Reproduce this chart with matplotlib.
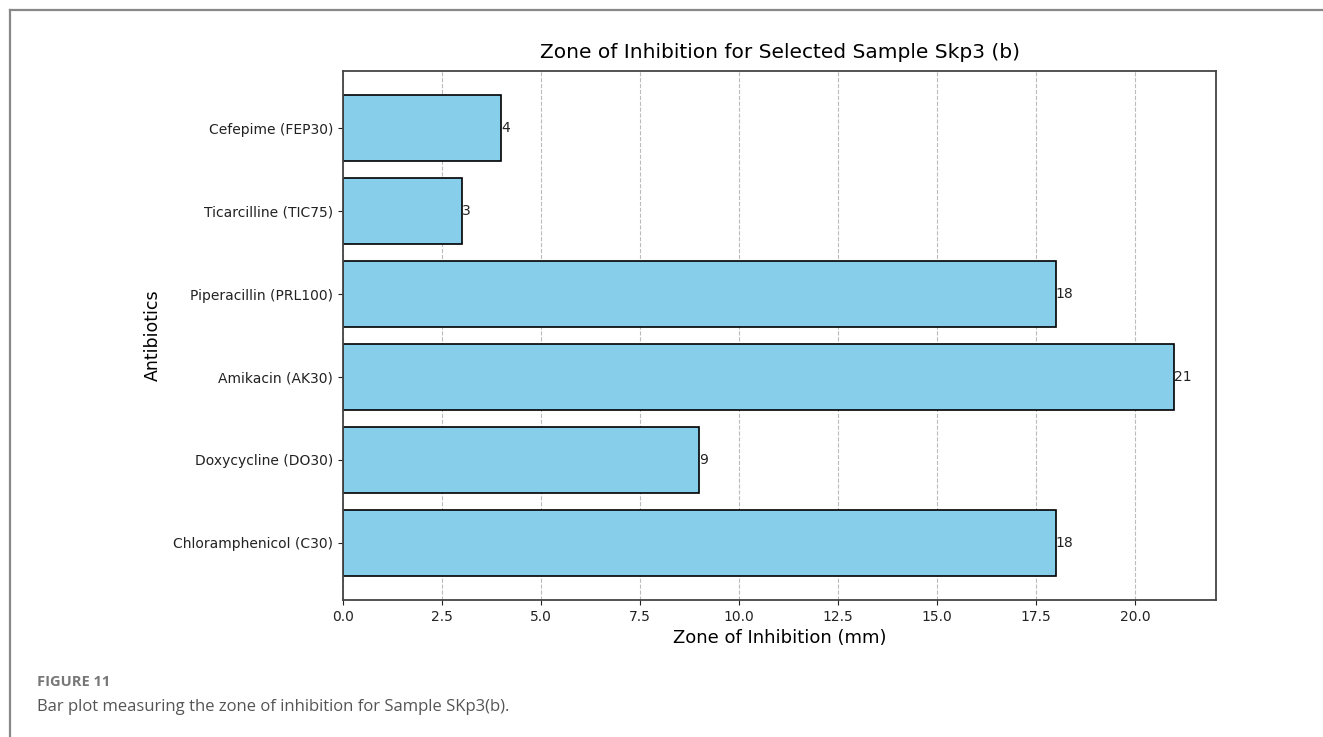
import matplotlib
matplotlib.use("Agg")
from matplotlib import pyplot as plt
from matplotlib.lines import Line2D

antibiotics = [
    "Chloramphenicol (C30)",
    "Doxycycline (DO30)",
    "Amikacin (AK30)",
    "Piperacillin (PRL100)",
    "Ticarcilline (TIC75)",
    "Cefepime (FEP30)",
]
zone_mm = [18, 9, 21, 18, 3, 4]

fig = plt.figure(figsize=(13.23, 7.37), dpi=100)
ax = fig.add_axes([0.2593, 0.1859, 0.6598, 0.7178])

bars = ax.barh(antibiotics, zone_mm, color="skyblue", edgecolor="black", linewidth=1.2)

# value printed just past the end of each bar
for bar, value in zip(bars, zone_mm):
    ax.text(bar.get_width(), bar.get_y() + bar.get_height() / 2, str(value),
            ha="left", va="center", fontsize=10, color="#222222")

ax.set_title("Zone of Inhibition for Selected Sample Skp3 (b)", fontsize=14.5, pad=9)
ax.set_xlabel("Zone of Inhibition (mm)", fontsize=13, labelpad=4)
ax.set_ylabel("Antibiotics", fontsize=12.5, labelpad=8)
ax.tick_params(labelsize=10, colors="#222222")
ax.grid(axis="x", linestyle="--", color="#aaaaaa", alpha=0.8)
ax.set_axisbelow(True)
for spine in ax.spines.values():
    spine.set_linewidth(1.3)
    spine.set_color("#444444")

# journal figure frame (top and left edges only) and caption
fig.add_artist(Line2D([10 / 1323, 1.0], [1 - 10 / 737, 1 - 10 / 737],
                      transform=fig.transFigure, color="#888888", linewidth=1.6))
fig.add_artist(Line2D([10 / 1323, 10 / 1323], [0.0, 1 - 10 / 737],
                      transform=fig.transFigure, color="#888888", linewidth=1.6))
fig.text(37 / 1323, 1 - 682 / 737, "FIGURE 11", fontsize=10.5, fontweight="bold",
         color="#777777", family="Open Sans", va="center", ha="left")
fig.text(37 / 1323, 1 - 707 / 737, "Bar plot measuring the zone of inhibition for Sample SKp3(b).",
         fontsize=12, color="#555555", family="Open Sans", va="center", ha="left")

fig.savefig("out.png", dpi=100)
